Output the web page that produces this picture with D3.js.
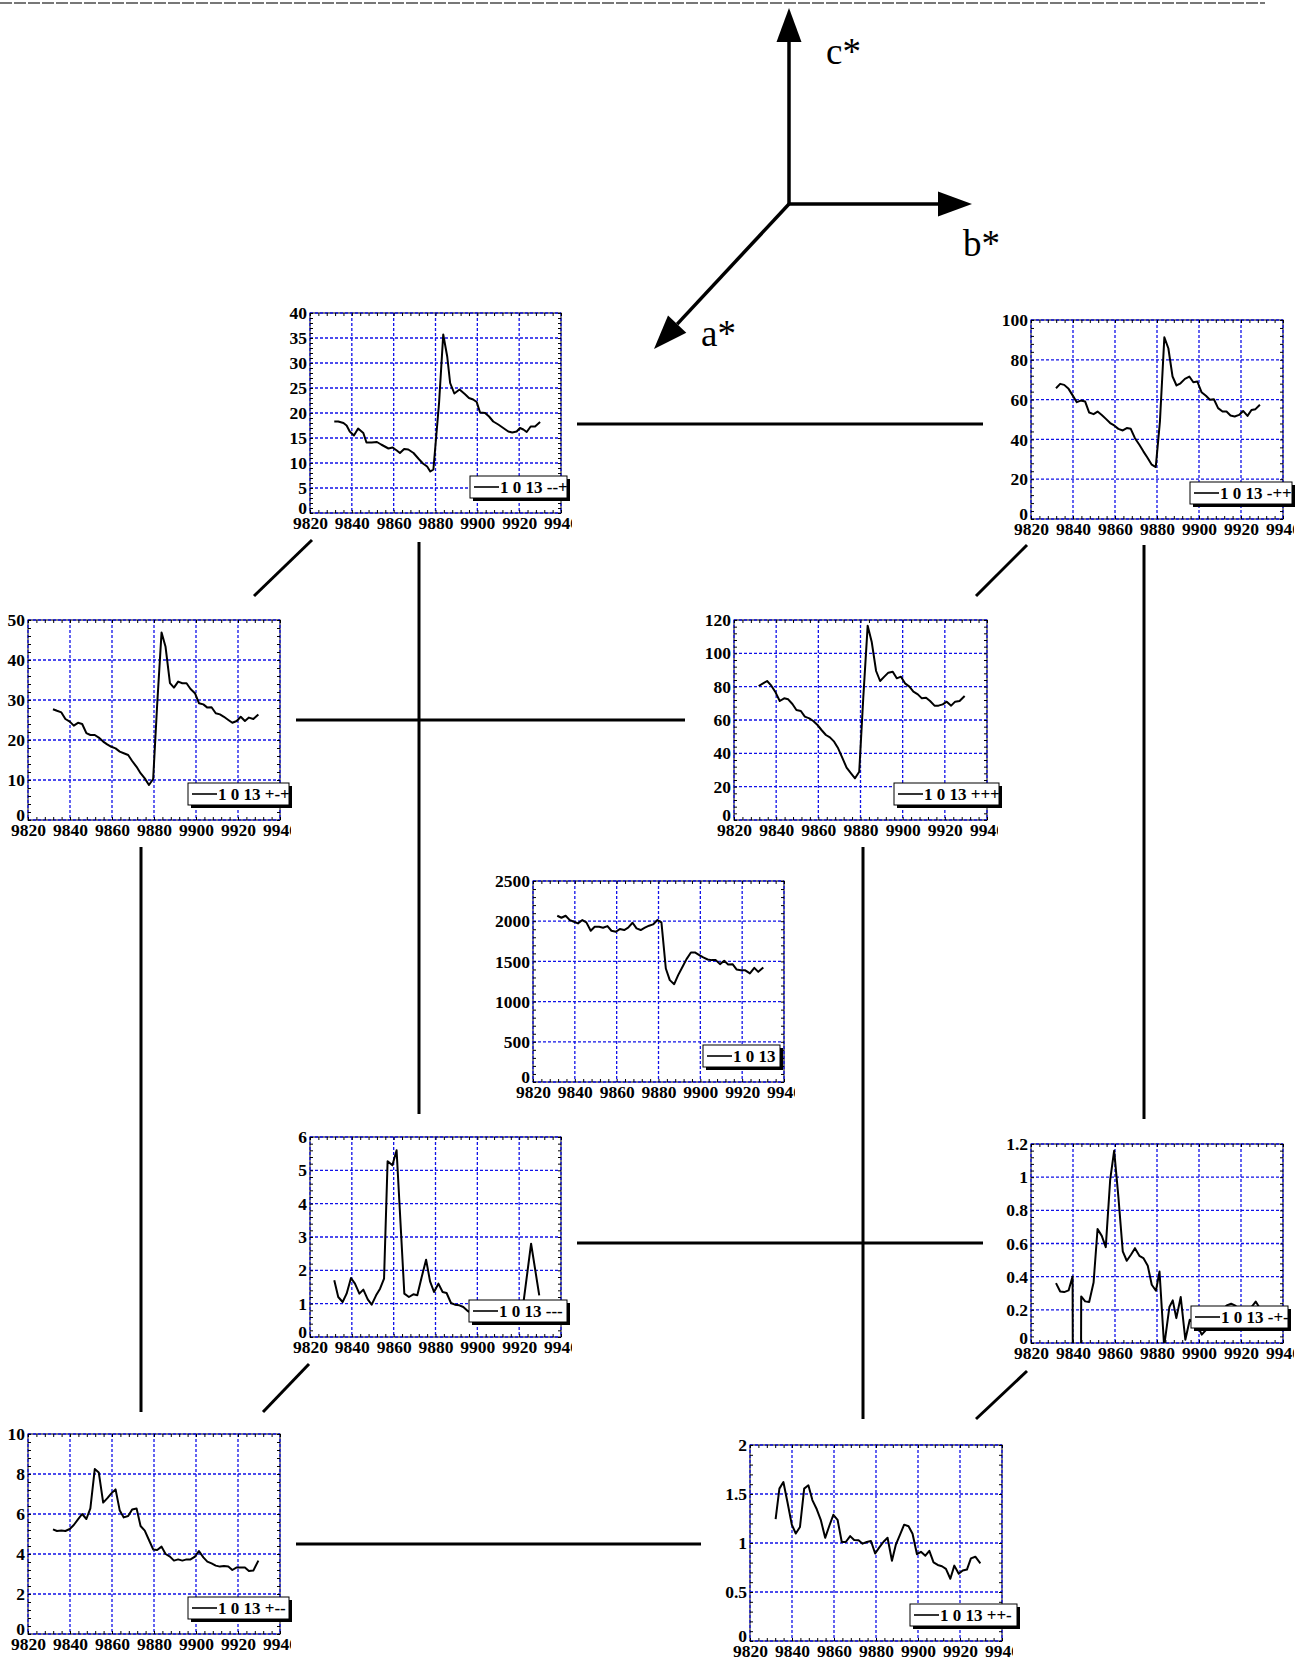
<!DOCTYPE html>
<html>
<head>
<meta charset="utf-8">
<script src="https://cdn.jsdelivr.net/npm/d3@7"></script>
<style>
body { margin: 0; background: #fff; }
svg { display: block; }
text { font-family: 'Liberation Serif', 'Times New Roman', serif; }
</style>
</head>
<body>
<svg width="1312" height="1660"></svg>
<script>
// x axis is shared by all nine panels
var xTicks = [9820, 9840, 9860, 9880, 9900, 9920, 9940];

// y ticks per panel
var yMMP = [0, 5, 10, 15, 20, 25, 30, 35, 40];
var yMPP = [0, 20, 40, 60, 80, 100];
var yPMP = [0, 10, 20, 30, 40, 50];
var yPPP = [0, 20, 40, 60, 80, 100, 120];
var yMid = [0, 500, 1000, 1500, 2000, 2500];
var yMMM = [0, 1, 2, 3, 4, 5, 6];
var yMPM = [0, 0.2, 0.4, 0.6, 0.8, 1, 1.2];
var yPMM = [0, 2, 4, 6, 8, 10];
var yPPM = [0, 0.5, 1, 1.5, 2];

// 1 0 13 --+
var dMMP = [[9831.6,18.3],[9833.5,18.3],[9836,18],[9837.5,17.5],[9839,16.3],[9841,15.5],[9843,16.9],[9845.5,16],[9847,14.1],[9849.5,14.1],[9852,14.2],[9854,13.7],[9857.5,12.9],[9859.5,13.1],[9861.5,12.5],[9863,12],[9865,12.8],[9867,12.7],[9869.5,12],[9872,10.8],[9874,9.9],[9876,9.3],[9877.5,8.3],[9879,8.7],[9881.7,22],[9883.7,35.7],[9885.6,31.3],[9887,26],[9889,23.9],[9891.5,24.7],[9894,23.8],[9896,23],[9898,22.7],[9899.7,22.2],[9901.3,20.1],[9903.7,20],[9905.6,19.3],[9907.6,18.3],[9910,17.7],[9912.4,17],[9914.8,16.3],[9916.7,16.1],[9918.8,16.3],[9920.4,17],[9922,16.7],[9923.6,16.2],[9925.5,17.3],[9927.6,17.3],[9930,18.2]];
// 1 0 13 -++
var dMPP = [[9831.9,65.7],[9833.9,67.9],[9835.8,67.4],[9837.9,65.4],[9839.9,62],[9841.8,58.7],[9843.7,59.5],[9845.8,59],[9847.7,53.5],[9849.8,52.7],[9851.7,54],[9853.7,52.3],[9855.8,50.2],[9857.7,48.2],[9859.6,47],[9861.6,45.3],[9863.7,44.5],[9865.6,45.7],[9867.5,45.3],[9869.5,40.6],[9871.6,37.3],[9873.5,34],[9875.4,30.9],[9877.5,27.3],[9879.4,26.1],[9881.4,49],[9883.5,91.3],[9885.4,85.8],[9887.4,71.6],[9889.3,67.1],[9891.2,68.2],[9893.3,70.4],[9895.4,71.6],[9897.3,68.7],[9899.2,69.1],[9901.2,63.7],[9903.3,61.9],[9905.2,59.9],[9907.1,60.2],[9909.1,55.7],[9911.2,54],[9913.1,54],[9915,52],[9917,51.5],[9919.1,52.3],[9921,54.3],[9923.1,51.8],[9925,54.8],[9926.9,55.2],[9929,57.4]];
// 1 0 13 +-+
var dPMP = [[9831.9,27.7],[9833.8,27.3],[9835.9,26.9],[9837.8,25.25],[9839.9,24.6],[9841.8,23.6],[9843.8,24.3],[9845.8,24],[9847.8,21.7],[9849.7,21.25],[9851.8,21.25],[9853.7,20.6],[9855.8,19.6],[9857.7,18.9],[9859.7,18.3],[9861.7,17.9],[9863.7,17.1],[9865.6,16.7],[9867.7,16.25],[9869.6,14.75],[9871.7,13.3],[9873.6,11.7],[9875.6,10.4],[9877.6,8.75],[9879.6,10.25],[9881.5,28.75],[9883.6,46.9],[9885.5,43.3],[9887.6,34.2],[9889.5,33.1],[9891.5,34.6],[9893.5,34.2],[9895.5,34.2],[9897.4,32.75],[9899.5,31.7],[9901.4,29.2],[9903.5,28.9],[9905.4,28.1],[9907.4,28.2],[9909.4,26.7],[9911.4,26.4],[9913.3,25.8],[9915.4,25],[9917.3,24.3],[9919.4,24.75],[9921.3,25.8],[9923.3,24.75],[9925.2,25.6],[9927.3,25.25],[9929.7,26.4]];
// 1 0 13 +++
var dPPP = [[9831.7,80.4],[9833.8,82],[9835.7,83.4],[9837.7,80.6],[9839.7,76.6],[9841.7,71.4],[9843.8,73],[9845.7,72.4],[9847.7,69.6],[9849.6,66],[9851.7,65.4],[9853.6,62],[9855.7,61],[9857.6,59.4],[9859.6,57],[9861.5,54],[9863.6,51],[9865.5,49.6],[9867.5,47],[9869.4,43],[9871.5,37],[9873.4,31.4],[9875.5,28],[9877.4,25],[9879.4,29],[9881.3,73],[9883.4,116.6],[9885.3,107],[9887.4,89.4],[9889.3,83.4],[9891.3,86],[9893.2,88.4],[9895.3,89],[9897.2,85],[9899.2,86],[9901.1,82],[9903.2,80],[9905.1,77],[9907.2,75.4],[9909.1,73],[9911.1,73.4],[9913,71.4],[9915.1,68.6],[9917,68.6],[9919,69.4],[9920.9,71],[9923,68.6],[9924.9,71],[9927,71.4],[9929.4,74.4]];
// 1 0 13
var dMid = [[9831.6,2068],[9833.6,2043],[9835.6,2068],[9837.6,2014],[9839.6,1993],[9841.5,1973],[9843.6,2014],[9845.5,1985],[9847.6,1881],[9849.5,1931],[9851.6,1931],[9853.5,1919],[9855.6,1939],[9857.5,1881],[9859.6,1869],[9861.5,1902],[9863.6,1890],[9865.5,1919],[9867.6,1981],[9869.5,1910],[9871.5,1890],[9873.5,1919],[9875.5,1944],[9877.4,1960],[9879.5,2014],[9881.4,1985],[9883.5,1412],[9885.4,1267],[9887.5,1217],[9889.4,1329],[9891.5,1433],[9893.4,1528],[9895.5,1611],[9897.4,1611],[9899.5,1578],[9901.4,1549],[9903.5,1524],[9905.4,1516],[9907.4,1516],[9909.4,1466],[9911.4,1507],[9913.3,1462],[9915.4,1466],[9917.3,1400],[9919.4,1391],[9921.3,1391],[9923.7,1350],[9925.8,1420],[9927.7,1370],[9930.1,1424]];
// 1 0 13 ---
var dMMM = [[9831.6,1.7],[9833.5,1.2],[9835.6,1.05],[9837.5,1.3],[9839.6,1.77],[9841.5,1.6],[9843.6,1.3],[9845.5,1.42],[9847.6,1.13],[9849.5,0.97],[9851.6,1.25],[9853.5,1.45],[9855.4,1.75],[9857.1,5.27],[9859.4,5.15],[9861.4,5.6],[9865.1,1.3],[9867.3,1.2],[9869.4,1.28],[9871.3,1.25],[9873.4,1.8],[9875.5,2.32],[9877.4,1.67],[9879.3,1.35],[9881.4,1.6],[9883.4,1.35],[9885.3,1.32],[9887.4,1.02],[9889.3,0.97],[9891.4,0.95],[9893.3,0.9],[9895.4,0.78],[9897.4,0.72],[9899.4,0.8],[9901.4,0.7],[9903.4,0.68],[9905.4,0.72],[9907.4,0.66],[9909.4,0.7],[9911.4,0.64],[9913.4,0.68],[9915.4,0.66],[9917.4,0.7],[9919.4,0.68],[9921.4,0.72],[9925.7,2.8],[9929.6,1.25]];
// 1 0 13 -+-  (one point far below zero, clipped)
var dMPM = [[9831.9,0.361],[9833.9,0.311],[9835.8,0.307],[9837.9,0.317],[9839.8,0.401],[9841.9,-10],[9843.9,0.281],[9845.8,0.251],[9847.7,0.247],[9849.8,0.365],[9851.7,0.688],[9853.7,0.646],[9855.6,0.578],[9857.7,0.983],[9859.6,1.16],[9861.6,0.883],[9863.7,0.552],[9865.6,0.496],[9867.6,0.532],[9869.5,0.572],[9871.6,0.526],[9873.5,0.512],[9875.6,0.466],[9877.5,0.351],[9879.5,0.315],[9881.2,0.431],[9883.4,-0.02],[9885.9,0.217],[9887.5,0.257],[9889.2,0.15],[9891.3,0.277],[9893.5,0.02],[9895.6,0.14],[9897.5,0.12],[9899.5,0.1],[9901.3,0.05],[9903.4,0.08],[9905.4,0.12],[9907.4,0.15],[9909.4,0.18],[9911.3,0.2],[9913.2,0.227],[9915.3,0.237],[9917.3,0.225],[9919.3,0.2],[9921.3,0.21],[9923.3,0.2],[9925.2,0.22],[9927,0.25],[9929.4,0.2]];
// 1 0 13 +--
var dPMM = [[9831.9,5.23],[9833.8,5.15],[9835.9,5.17],[9837.8,5.15],[9839.9,5.25],[9841.8,5.45],[9843.8,5.73],[9845.8,6.0],[9847.8,5.75],[9849.7,6.28],[9851.8,8.25],[9853.7,8.08],[9855.8,6.57],[9857.7,6.78],[9859.7,7.03],[9861.7,7.23],[9863.7,6.17],[9865.6,5.83],[9867.7,5.9],[9869.6,6.23],[9871.7,6.28],[9873.6,5.4],[9875.6,5.17],[9877.6,4.7],[9879.6,4.23],[9881.5,4.2],[9883.6,4.37],[9885.5,4.0],[9887.6,3.87],[9889.5,3.67],[9891.5,3.73],[9893.5,3.67],[9895.5,3.73],[9897.4,3.73],[9899.5,3.87],[9901.4,4.15],[9903.5,3.83],[9905.4,3.62],[9907.4,3.53],[9909.4,3.42],[9911.4,3.37],[9913.3,3.4],[9915.4,3.37],[9917.3,3.2],[9919.4,3.33],[9921.3,3.33],[9923.3,3.32],[9925.2,3.15],[9927.3,3.17],[9929.7,3.67]];
// 1 0 13 ++-
var dPPM = [[9832.2,1.244],[9834,1.555],[9835.9,1.622],[9837.8,1.421],[9839.9,1.187],[9841.8,1.097],[9843.8,1.164],[9845.8,1.555],[9847.8,1.589],[9849.7,1.438],[9851.8,1.344],[9853.7,1.237],[9855.8,1.053],[9857.7,1.171],[9859.7,1.288],[9861.7,1.237],[9863.7,1.01],[9865.6,1.01],[9867.7,1.07],[9869.6,1.03],[9871.7,1.027],[9873.6,0.993],[9875.6,1.01],[9877.6,1.02],[9879.6,0.893],[9881.5,0.953],[9883.6,1.013],[9885.5,1.053],[9887.6,0.819],[9889.5,0.987],[9891.5,1.087],[9893.4,1.187],[9895.5,1.171],[9897.4,1.094],[9899.5,0.886],[9901.4,0.91],[9903.5,0.87],[9905.4,0.92],[9907.4,0.803],[9909.4,0.776],[9911.4,0.763],[9913.3,0.736],[9915.4,0.635],[9917.3,0.769],[9919.4,0.686],[9921.3,0.719],[9923.3,0.729],[9925.2,0.843],[9927.3,0.86],[9929.7,0.793]];

var svg = d3.select('svg');
var defs = svg.append('defs');
svg.append('rect').attr('width', 1312).attr('height', 1660).attr('fill', '#fff');

// dashed rule along the top edge
svg.append('line').attr('x1', 0).attr('y1', 3).attr('x2', 1265).attr('y2', 3)
    .attr('stroke', '#777').attr('stroke-width', 2).attr('stroke-dasharray', '12,2');

// cube edges joining the panels
var edges = [
    [577, 424, 983, 424], [312, 540, 254, 596], [1027, 545, 976, 596],
    [419, 542, 419, 1114], [296, 720, 685, 720], [1144, 545, 1144, 1119],
    [141, 847, 141, 1412], [863, 847, 863, 1419], [577, 1243, 983, 1243],
    [309, 1364, 263, 1412], [1027, 1371, 976, 1419], [296, 1544, 701, 1544]
];
svg.selectAll('.edge').data(edges).enter().append('line')
    .attr('x1', function (d) { return d[0]; }).attr('y1', function (d) { return d[1]; })
    .attr('x2', function (d) { return d[2]; }).attr('y2', function (d) { return d[3]; })
    .attr('stroke', '#000').attr('stroke-width', 3);

// reciprocal axes a*, b*, c*
var ox = 789, oy = 204;
function arrow(tx, ty, label, lx, ly) {
    var dx = tx - ox, dy = ty - oy, len = Math.sqrt(dx * dx + dy * dy);
    var ux = dx / len, uy = dy / len, hl = 34, hw = 12.5;
    var bx = tx - ux * hl, by = ty - uy * hl;
    svg.append('line').attr('x1', ox).attr('y1', oy).attr('x2', bx).attr('y2', by)
        .attr('stroke', '#000').attr('stroke-width', 3.5);
    svg.append('path')
        .attr('d', 'M' + tx + ',' + ty + 'L' + (bx - uy * hw) + ',' + (by + ux * hw) +
            'L' + (bx + uy * hw) + ',' + (by - ux * hw) + 'Z')
        .attr('fill', '#000');
    svg.append('text').attr('x', lx).attr('y', ly).attr('font-size', 37).text(label);
}
arrow(789, 8, 'c*', 826, 64);
arrow(972, 204, 'b*', 963, 256);
arrow(654, 349, 'a*', 701, 346);

var lineGen = d3.line();
var fmt = function (v) { return String(v); };
var serif = "'Liberation Serif', 'Times New Roman', serif";

function drawPanel(p) {
    var g = svg.append('g').attr('transform', 'translate(' + p.x + ',' + p.y + ')');
    var xs = d3.scaleLinear().domain([xTicks[0], xTicks[xTicks.length - 1]]).range([0, p.w]);
    var yt = p.yTicks;
    var ys = d3.scaleLinear().domain([yt[0], yt[yt.length - 1]]).range([p.h, 0]);

    defs.append('clipPath').attr('id', 'plot' + p.id).append('rect')
        .attr('width', p.w).attr('height', p.h);
    // the x-label group is itself shifted down by h, so the clip starts at 0
    defs.append('clipPath').attr('id', 'xl' + p.id).append('rect')
        .attr('x', -30).attr('y', 0).attr('width', p.w + 11 + 30).attr('height', 40);

    // minor ticks, five steps between labelled ticks
    var xMinor = [], yMinor = [];
    for (var i = 0; i < xTicks.length - 1; i++)
        for (var k = 1; k < 5; k++) xMinor.push(xTicks[i] + (xTicks[i + 1] - xTicks[i]) * k / 5);
    for (var j = 0; j < yt.length - 1; j++)
        for (var m = 1; m < 5; m++) yMinor.push(yt[j] + (yt[j + 1] - yt[j]) * m / 5);

    g.append('rect').attr('width', p.w).attr('height', p.h)
        .attr('fill', '#fff').attr('stroke', '#000').attr('stroke-width', 1);

    g.selectAll('.gx').data(xTicks).enter().append('line')
        .attr('x1', function (d) { return xs(d); }).attr('x2', function (d) { return xs(d); })
        .attr('y1', 0).attr('y2', p.h)
        .attr('stroke', '#1010e8').attr('stroke-width', 1.3).attr('stroke-dasharray', '3,2');
    g.selectAll('.gy').data(yt).enter().append('line')
        .attr('y1', function (d) { return ys(d); }).attr('y2', function (d) { return ys(d); })
        .attr('x1', 0).attr('x2', p.w)
        .attr('stroke', '#1010e8').attr('stroke-width', 1.3).attr('stroke-dasharray', '3,2');

    var minorAxes = [
        [d3.axisLeft(ys).tickValues(yMinor.concat(yt)), 0, 0],
        [d3.axisRight(ys).tickValues(yMinor.concat(yt)), p.w, 0],
        [d3.axisBottom(xs).tickValues(xMinor.concat(xTicks)), 0, p.h],
        [d3.axisTop(xs).tickValues(xMinor.concat(xTicks)), 0, 0]
    ];
    minorAxes.forEach(function (a) {
        var ag = g.append('g').attr('transform', 'translate(' + a[1] + ',' + a[2] + ')')
            .call(a[0].tickSize(-3).tickFormat(''));
        ag.select('.domain').remove();
        ag.selectAll('line').attr('stroke', '#000').attr('stroke-width', 1);
    });

    var xa = g.append('g').attr('transform', 'translate(0,' + p.h + ')')
        .attr('clip-path', 'url(#xl' + p.id + ')')
        .call(d3.axisBottom(xs).tickValues(xTicks).tickSize(0).tickPadding(4).tickFormat(fmt));
    xa.select('.domain').remove();
    xa.selectAll('text').attr('font-size', 17.5).attr('font-weight', 'bold')
        .attr('font-family', serif).attr('fill', '#000');

    var ya = g.append('g')
        .call(d3.axisLeft(ys).tickValues(yt).tickSize(0).tickPadding(3).tickFormat(fmt));
    ya.select('.domain').remove();
    ya.selectAll('text').attr('font-size', 17.5).attr('font-weight', 'bold')
        .attr('font-family', serif).attr('fill', '#000');
    // the zero label sits a little above the corner, clear of the x labels
    ya.selectAll('.tick').filter(function (d) { return d === yt[0]; })
        .select('text').attr('y', -5);

    lineGen.x(function (d) { return xs(d[0]); }).y(function (d) { return ys(d[1]); });
    g.append('path').datum(p.data).attr('d', lineGen)
        .attr('clip-path', 'url(#plot' + p.id + ')')
        .attr('fill', 'none').attr('stroke', '#000').attr('stroke-width', 2)
        .attr('stroke-linejoin', 'round');

    // legend box with drop shadow
    var lx = p.w - p.lOff, ly = p.h - 37, lw = p.lw, lh = 22;
    defs.append('clipPath').attr('id', 'lg' + p.id).append('rect')
        .attr('width', lw).attr('height', lh);
    var lg = g.append('g').attr('transform', 'translate(' + lx + ',' + ly + ')');
    lg.append('rect').attr('x', 3).attr('y', 3).attr('width', lw).attr('height', lh).attr('fill', '#000');
    lg.append('rect').attr('width', lw).attr('height', lh).attr('fill', '#fff')
        .attr('stroke', '#000').attr('stroke-width', 1);
    var lc = lg.append('g').attr('clip-path', 'url(#lg' + p.id + ')');
    lc.append('line').attr('x1', 4).attr('x2', 29).attr('y1', lh / 2).attr('y2', lh / 2)
        .attr('stroke', '#000').attr('stroke-width', 1.6);
    lc.append('text').attr('x', 30).attr('y', lh / 2 + 6)
        .attr('font-size', 17).attr('font-weight', 'bold').text(p.label);
}

var panels = [
    { id: 1, x: 310, y: 313, w: 251, h: 200, data: dMMP, yTicks: yMMP, label: '1 0 13 --+', lOff: 91, lw: 97 },
    { id: 2, x: 1031, y: 320, w: 252, h: 199, data: dMPP, yTicks: yMPP, label: '1 0 13 -++', lOff: 93, lw: 102 },
    { id: 3, x: 28, y: 620, w: 252, h: 200, data: dPMP, yTicks: yPMP, label: '1 0 13 +-+', lOff: 92, lw: 101 },
    { id: 4, x: 734, y: 620, w: 253, h: 200, data: dPPP, yTicks: yPPP, label: '1 0 13 +++', lOff: 93, lw: 105 },
    { id: 5, x: 533, y: 881, w: 251, h: 201, data: dMid, yTicks: yMid, label: '1 0 13', lOff: 81, lw: 77 },
    { id: 6, x: 310, y: 1137, w: 251, h: 200, data: dMMM, yTicks: yMMM, label: '1 0 13 ---', lOff: 92, lw: 98 },
    { id: 7, x: 1031, y: 1144, w: 252, h: 199, data: dMPM, yTicks: yMPM, label: '1 0 13 -+-', lOff: 92, lw: 97 },
    { id: 8, x: 28, y: 1434, w: 252, h: 200, data: dPMM, yTicks: yPMM, label: '1 0 13 +--', lOff: 92, lw: 101 },
    { id: 9, x: 750, y: 1445, w: 252, h: 196, data: dPPM, yTicks: yPPM, label: '1 0 13 ++-', lOff: 92, lw: 107 }
];
panels.forEach(drawPanel);
</script>
</body>
</html>
